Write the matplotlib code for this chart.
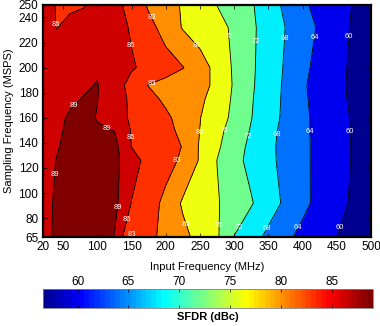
import numpy as np
import matplotlib
matplotlib.use('Agg')
import matplotlib.pyplot as plt
from matplotlib.colors import Normalize, ListedColormap
from matplotlib.cm import ScalarMappable

plt.rcParams['font.family'] = ['Liberation Sans', 'DejaVu Sans']

# Measured SFDR (dBc) vs input frequency (columns) and sampling rate (rows)
input_freq = [20, 40, 60, 80, 100, 125, 150, 175, 200, 225, 250,
              275, 300, 325, 350, 375, 400, 425, 450, 475, 500]
sampling_freq = [65, 92, 126, 137, 150, 160, 175, 186, 200, 232, 250]

sfdr_65 = [88.0, 89.5, 89.9, 90.0, 89.8, 88.9, 82.8, 83.7, 82.2, 80.8, 79.0,
           76.5, 71.9, 69.5, 67.1, 64.8, 63.0, 61.5, 60.0, 58.5, 57.0]
sfdr_92 = [87.9, 89.4, 89.9, 90.0, 89.9, 89.8, 85.9, 84.2, 82.3, 79.6, 77.9,
           76.3, 74.3, 72.3, 69.8, 67.3, 64.9, 62.9, 61.1, 59.4, 57.9]
sfdr_126 = [88.0, 89.05, 89.8, 89.9, 89.9, 89.8, 87.2, 85.0, 84.0, 82.5, 79.7,
            75.95, 73.2, 70.9, 68.9, 66.9, 64.8, 63.0, 61.3, 59.7, 58.2]
sfdr_137 = [87.8, 88.8, 89.6, 89.8, 89.7, 89.9, 85.95, 85.0, 84.0, 82.9, 79.7,
            76.6, 73.7, 71.1, 68.9, 66.8, 64.8, 63.0, 61.3, 59.7, 58.2]
sfdr_150 = [87.6, 88.6, 89.4, 89.6, 89.2, 88.95, 85.8, 84.8, 83.7, 82.4, 79.95,
            77.1, 74.4, 71.7, 69.2, 66.9, 64.8, 62.9, 61.3, 59.6, 58.1]
sfdr_160 = [87.6, 88.4, 89.3, 89.5, 88.9, 87.3, 85.6, 84.5, 83.5, 82.0, 80.1,
            77.7, 75.1, 72.1, 69.6, 67.2, 64.8, 62.9, 61.2, 59.6, 58.1]
sfdr_175 = [87.6, 88.0, 88.6, 89.1, 89.05, 87.6, 85.4, 83.8, 82.5, 81.5, 80.6,
            78.6, 75.3, 72.3, 69.8, 67.3, 64.6, 62.7, 61.0, 59.3, 57.8]
sfdr_186 = [87.8, 88.0, 88.3, 88.7, 89.1, 87.4, 85.0, 82.9, 82.1, 81.4, 80.7,
            79.5, 75.5, 72.5, 69.9, 67.4, 64.5, 62.5, 60.8, 59.3, 57.8]
sfdr_200 = [88.0, 88.2, 88.4, 88.6, 88.7, 87.5, 86.3, 85.2, 84.2, 83.1, 81.4,
            79.0, 75.4, 72.6, 70.1, 67.6, 64.9, 62.8, 61.0, 59.3, 57.8]
sfdr_232 = [89.1, 85.9, 86.8, 87.2, 87.4, 87.2, 85.7, 83.9, 81.9, 79.8, 78.4,
            77.1, 75.4, 72.7, 70.3, 67.95, 65.7, 63.5, 61.4, 59.5, 58.0]
sfdr_250 = [89.3, 85.7, 85.5, 85.8, 86.6, 86.9, 85.0, 82.6, 81.2, 79.7, 77.8,
            75.95, 74.2, 72.4, 69.9, 67.2, 64.6, 62.9, 61.3, 59.8, 58.3]

sfdr = np.array([sfdr_65, sfdr_92, sfdr_126, sfdr_137, sfdr_150, sfdr_160,
                 sfdr_175, sfdr_186, sfdr_200, sfdr_232, sfdr_250])

levels = [60, 64, 68, 72, 76, 80, 83, 86, 89]
cbar_ticks = [60, 65, 70, 75, 80, 85]
cmin, cmax = 56.6, 89.0

# where the contour labels go (input MHz, MSPS)
label_pos = {
    60: [(466, 225), (469.6, 148.8), (453.5, 72.8)],
    64: [(417, 224), (409.6, 148.8), (392.5, 72.8)],
    68: [(374.5, 223), (363, 146.6), (346.8, 72)],
    72: [(333, 221), (319.4, 145), (306, 72.8)],
    76: [(294, 225), (284, 149.8), (279.5, 73.8)],
    80: [(243, 216.5), (249, 148), (230.8, 75.4)],
    83: [(182, 240.8), (179.6, 188), (226.9, 124), (150.4, 68)],
    86: [(40.8, 234.6), (146.9, 217), (146.9, 144.5), (144, 79)],
    89: [(65, 169.8), (106.5, 144.5), (35.8, 114.6), (135.8, 88)],
}

# 64-step jet, same ramps as the classic MATLAB map
t = np.arange(1, 65)
r = np.clip(np.minimum(t - 24, 72 - t) / 16, 0, 1)
g = np.clip(np.minimum(t - 8, 56 - t) / 16, 0, 1)
b = np.clip(np.minimum(t + 8, 40 - t) / 16, 0, 1)
cmap = ListedColormap(np.column_stack([r, g, b]))
norm = Normalize(cmin, cmax)

X, Y = np.meshgrid(input_freq, sampling_freq)

fig = plt.figure(figsize=(3.8, 3.26), dpi=100)
ax = fig.add_axes([0.112, 0.273, 0.8645, 0.712])

# each band takes the colour of its lower bound
fill_levels = [sfdr.min() - 0.5] + levels + [sfdr.max() + 0.5]
fill_colors = [cmap(norm(sfdr.min()))] + [cmap(norm(v)) for v in levels]
ax.contourf(X, Y, sfdr, levels=fill_levels, colors=fill_colors)
cs = ax.contour(X, Y, sfdr, levels=levels, colors='k', linewidths=0.6)

ax.set_xlim(20, 500)
ax.set_ylim(65, 250)


def closest_on_line(segs, p):
    """Closest point (pixels) on a set of polylines to pixel point p."""
    best, best_d = None, np.inf
    for s in segs:
        s = ax.transData.transform(s)
        a, c = s[:-1], s[1:]
        ab = c - a
        L = (ab ** 2).sum(1)
        L[L == 0] = 1e-9
        u = np.clip(((p - a) * ab).sum(1) / L, 0, 1)
        q = a + u[:, None] * ab
        d = np.hypot(*(q - p).T)
        k = np.argmin(d)
        if d[k] < best_d:
            best, best_d = q[k], d[k]
    return best


# put each label on its own contour level, horizontal like clabel'd text
for i, lev in enumerate(levels):
    segs = [s for s in cs.allsegs[i] if len(s) > 1]
    if not segs:
        continue
    for p in label_pos[lev]:
        q = closest_on_line(segs, ax.transData.transform(p))
        x, y = ax.transData.inverted().transform(q)
        ax.text(x, y, str(lev), fontsize=5.5, color='w', ha='center',
                va='center', zorder=5)

ax.set_xticks([20, 50, 100, 150, 200, 250, 300, 350, 400, 450, 500])
ax.set_yticks([65, 80, 100, 120, 140, 160, 180, 200, 220, 240, 250])
ax.tick_params(direction='in', top=True, right=True, length=3, width=0.5,
               labelsize=8.5, pad=3)
for sp in ax.spines.values():
    sp.set_linewidth(1.6)
ax.set_xlabel('Input Frequency (MHz)', fontsize=8, labelpad=6)
ax.set_ylabel('Sampling Frequency (MSPS)', fontsize=8, labelpad=3)

# colour bar underneath
cax = fig.add_axes([0.113, 0.055, 0.868, 0.058])
sm = ScalarMappable(norm=norm, cmap=cmap)
cb = fig.colorbar(sm, cax=cax, orientation='horizontal', ticks=cbar_ticks)
cax.xaxis.set_ticks_position('both')
cax.xaxis.set_label_position('bottom')
cax.tick_params(direction='in', length=2.5, width=0.5, labelsize=8.5,
                labeltop=True, labelbottom=False, pad=1)
cb.outline.set_edgecolor('#808080')
cb.outline.set_linewidth(0.6)
cb.set_label('SFDR (dBc)', fontsize=8, fontweight='bold', labelpad=3)

fig.savefig('out.png', dpi=100)
